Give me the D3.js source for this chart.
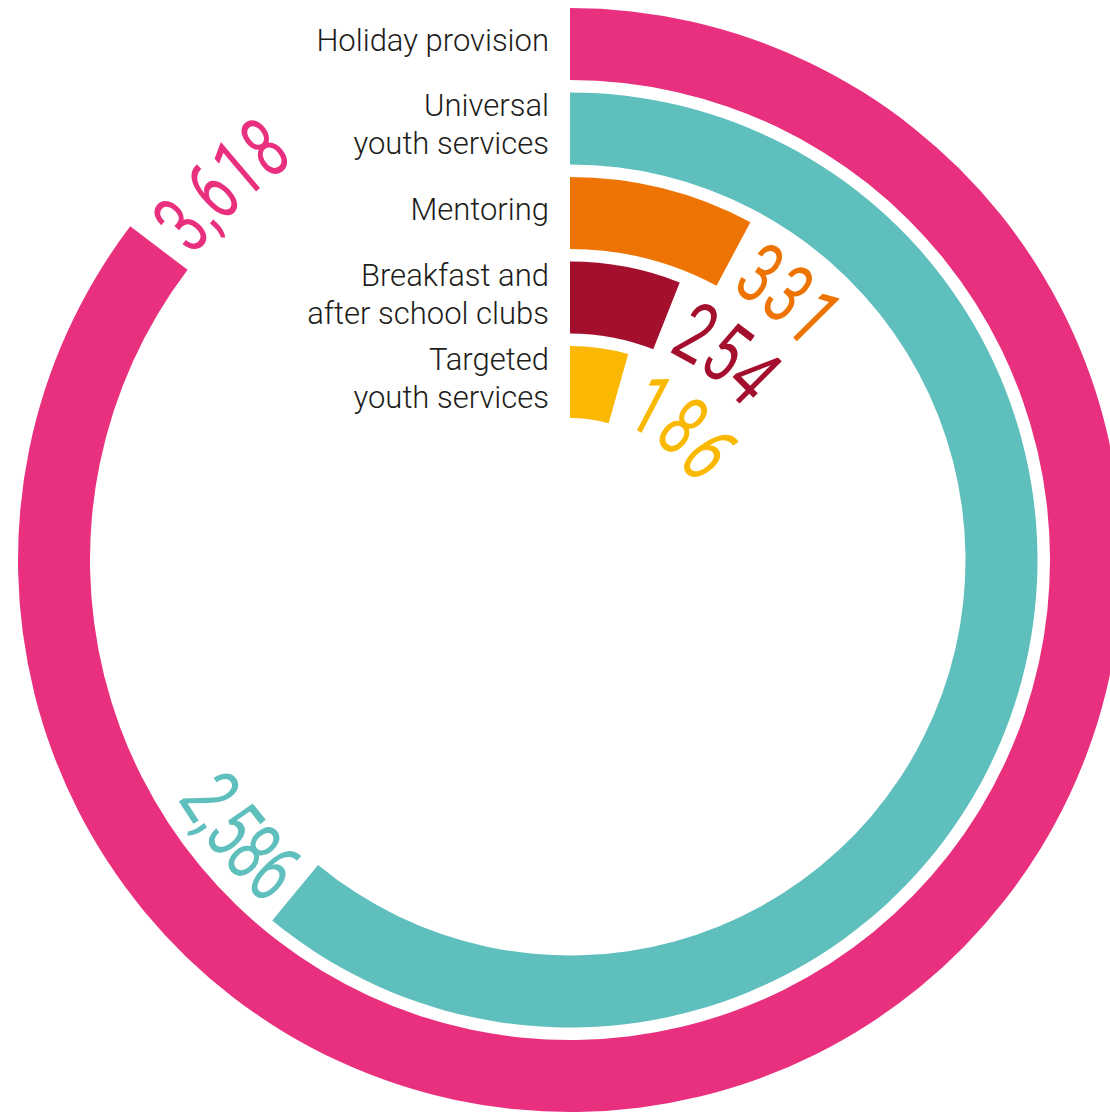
<!DOCTYPE html>
<html>
<head>
<meta charset="utf-8">
<script src="https://cdn.jsdelivr.net/npm/d3@7"></script>
<style>
body { margin: 0; background: #fff; }
.label { font-family: Roboto, "Open Sans", sans-serif; font-weight: 300; font-size: 31px; fill: #1d1d1b; }
.value { font-family: Roboto, "Open Sans", sans-serif; font-weight: 400; font-size: 84px; }
</style>
</head>
<body>
<div id="chart"></div>
<script>
var width = 1110, height = 1112,
    cx = 570, cy = 560,
    innerMost = 142, outerMost = 552,
    angleMax = 4240;

var categories = ["Holiday provision", "Universal youth services", "Mentoring", "Breakfast and after school clubs", "Targeted youth services"];
var labelLines = [["Holiday provision"], ["Universal", "youth services"], ["Mentoring"], ["Breakfast and", "after school clubs"], ["Targeted", "youth services"]];
var values = [3618, 2586, 331, 254, 186];
var colors = ["#e9307f", "#5fbfbc", "#ed7402", "#a50f2e", "#fbb800"];

var svg = d3.select("#chart").append("svg")
    .attr("width", width)
    .attr("height", height)
    .style("display", "block");
var g = svg.append("g")
    .attr("transform", "translate(" + cx + "," + cy + ")");

// innermost band = last category
var radius = d3.scaleBand()
    .domain(categories.slice().reverse())
    .range([innerMost, outerMost])
    .paddingInner(0.148);

var angle = d3.scaleLinear()
    .domain([0, angleMax])
    .range([0, 2 * Math.PI]);

var rows = categories.map(function(c, i) {
    return { cat: c, value: values[i], lines: labelLines[i], color: colors[i] };
});

var arc = d3.arc()
    .innerRadius(function(d) { return radius(d.cat); })
    .outerRadius(function(d) { return radius(d.cat) + radius.bandwidth(); })
    .startAngle(0)
    .endAngle(function(d) { return angle(d.value); });

g.selectAll(".bar")
    .data(rows)
    .enter().append("path")
    .attr("class", "bar")
    .attr("d", arc)
    .style("fill", function(d) { return d.color; });

// category labels, right aligned just left of the 12 o'clock line
var lineH = 38;
var labels = g.selectAll(".label")
    .data(rows)
    .enter().append("text")
    .attr("class", "label")
    .style("text-anchor", "end")
    .attr("transform", function(d) {
        var mid = -(radius(d.cat) + radius.bandwidth() / 2);
        var y0 = mid - (d.lines.length - 1) * lineH / 2 + 7;
        return "translate(-21," + y0 + ")";
    });

labels.selectAll("tspan")
    .data(function(d) { return d.lines; })
    .enter().append("tspan")
    .attr("x", 0)
    .attr("y", function(d, i) { return i * lineH; })
    .text(function(d) { return d; });

// value labels: one glyph at a time along the ring, narrowed
var fmt = d3.format(",");
var sx = 0.68, gap = 14;
var probe = svg.append("text").attr("class", "value");
function charW(ch) {
    probe.text(ch);
    return probe.node().getComputedTextLength() * sx;
}

rows.forEach(function(d) {
    var mid = radius(d.cat) + radius.bandwidth() / 2;
    var chars = fmt(d.value).split("");
    var a = angle(d.value);
    var flip = a > Math.PI / 2 && a < 3 * Math.PI / 2;
    var r = flip ? mid + 28 : mid - 32;
    var s = gap;
    var glyphs = chars.map(function(ch) {
        var w = charW(ch);
        var c = { ch: ch, s: s + w / 2 };
        s += w;
        return c;
    });
    var total = s;
    glyphs.forEach(function(c) {
        // flipped labels read counter-clockwise, ending next to the bar
        var phi = flip ? a + (total + gap - c.s) / r : a + c.s / r;
        c.x = r * Math.sin(phi);
        c.y = -r * Math.cos(phi);
        c.rot = phi * 180 / Math.PI + (flip ? 180 : 0);
    });
    g.append("g").selectAll("text")
        .data(glyphs)
        .enter().append("text")
        .attr("class", "value")
        .style("fill", d.color)
        .style("text-anchor", "middle")
        .attr("transform", function(c) {
            return "translate(" + c.x + "," + c.y + ") rotate(" + c.rot + ") scale(" + sx + ",1)";
        })
        .text(function(c) { return c.ch; });
});
probe.remove();
</script>
</body>
</html>
